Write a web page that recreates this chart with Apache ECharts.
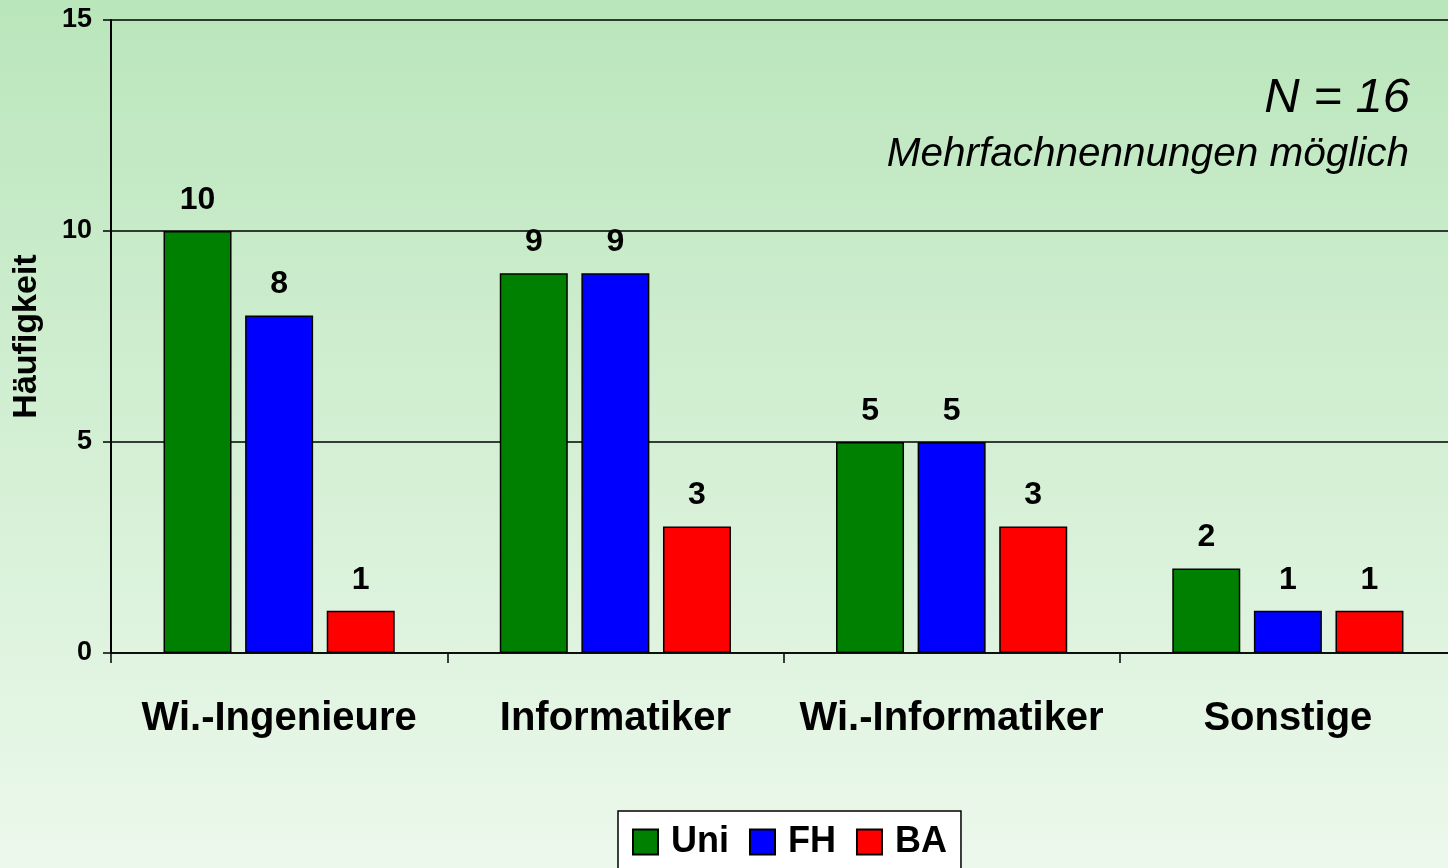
<!DOCTYPE html>
<html>
<head>
<meta charset="utf-8">
<script src="https://cdn.jsdelivr.net/npm/echarts@6/dist/echarts.min.js"></script>
<style>
  html, body { margin: 0; padding: 0; }
  #chart { width: 1448px; height: 868px; }
</style>
</head>
<body>
<div id="chart"></div>
<script>
// Kategorien und Werte (Häufigkeit, N = 16)
const categories = ['Wi.-Ingenieure', 'Informatiker', 'Wi.-Informatiker', 'Sonstige']
const uniValues = [10, 9, 5, 2]
const fhValues = [8, 9, 5, 1]
const baValues = [1, 3, 3, 1]
const yTicks = { min: 0, max: 15, interval: 5 }

const font = '"Liberation Sans", Arial, sans-serif'

function barSeries(name, data, color) {
  return {
    name: name,
    type: 'bar',
    data: data,
    barWidth: 68,
    barGap: '20%',
    itemStyle: { color: color, borderColor: '#000', borderWidth: 1.5 },
    label: {
      show: true,
      position: 'top',
      distance: 15,
      color: '#000',
      fontFamily: font,
      fontWeight: 'bold',
      fontSize: 32
    },
    emphasis: { disabled: true }
  }
}

const chart = echarts.init(document.getElementById('chart'))
chart.setOption({
  animation: false,
  backgroundColor: {
    type: 'linear', x: 0, y: 0, x2: 0, y2: 1,
    colorStops: [
      { offset: 0, color: '#bae6bb' },
      { offset: 1, color: '#ecf8ec' }
    ]
  },
  textStyle: { fontFamily: font },
  title: [
    {
      text: 'N = 16',
      right: 38,
      top: 74,
      padding: 0,
      textStyle: { fontFamily: font, fontStyle: 'italic', fontWeight: 'normal', fontSize: 49, color: '#000' }
    },
    {
      text: 'Mehrfachnennungen möglich',
      right: 39,
      top: 134,
      padding: 0,
      textStyle: { fontFamily: font, fontStyle: 'italic', fontWeight: 'normal', fontSize: 40.5, color: '#000' }
    }
  ],
  legend: {
    left: 618,
    top: 811,
    orient: 'horizontal',
    itemWidth: 25,
    itemHeight: 25,
    itemGap: 20,
    padding: [13, 14, 13, 14],
    backgroundColor: '#fff',
    borderColor: '#000',
    borderWidth: 1.5,
    borderRadius: 0,
    icon: 'rect',
    selectedMode: false,
    textStyle: {
      fontFamily: font,
      fontWeight: 'bold',
      fontSize: 36,
      color: '#000',
      padding: [0, 0, 0, 8]
    }
  },
  grid: {
    left: 111,
    top: 20,
    width: 1345,
    height: 633,
    containLabel: false,
    outerBoundsMode: 'none'
  },
  xAxis: {
    type: 'category',
    data: categories,
    axisLine: { lineStyle: { color: '#000', width: 1.5 } },
    axisTick: { show: true, interval: 0, length: 10, lineStyle: { color: '#000', width: 1.5 } },
    axisLabel: {
      interval: 0,
      margin: 46,
      color: '#000',
      fontFamily: font,
      fontWeight: 'bold',
      fontSize: 40
    }
  },
  yAxis: {
    type: 'value',
    min: yTicks.min,
    max: yTicks.max,
    interval: yTicks.interval,
    name: 'Häufigkeit',
    nameLocation: 'middle',
    nameGap: 67,
    nameRotate: 90,
    nameTextStyle: { color: '#000', fontFamily: font, fontWeight: 'bold', fontSize: 34 },
    axisLine: { show: true, lineStyle: { color: '#000', width: 2 } },
    axisTick: { show: true, length: 8, lineStyle: { color: '#000', width: 1.5 } },
    axisLabel: {
      margin: 19,
      color: '#000',
      fontFamily: font,
      fontWeight: 'bold',
      fontSize: 27
    },
    splitLine: { show: true, lineStyle: { color: '#000', width: 1.5 } }
  },
  series: [
    barSeries('Uni', uniValues, '#008000'),
    barSeries('FH', fhValues, '#0000ff'),
    barSeries('BA', baValues, '#ff0000')
  ]
})
</script>
</body>
</html>
